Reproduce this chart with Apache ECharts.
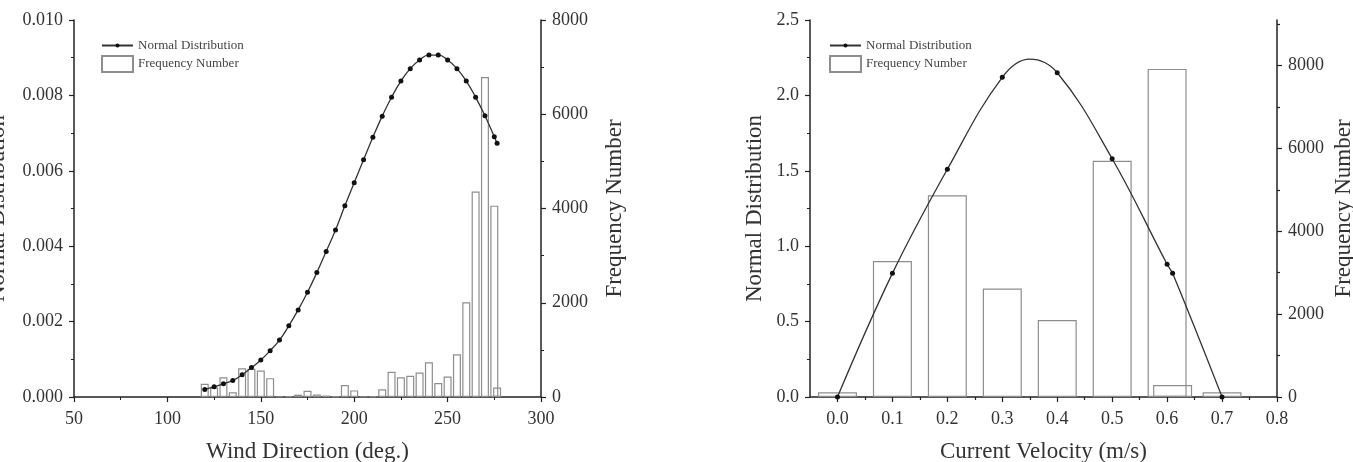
<!DOCTYPE html>
<html>
<head>
<meta charset="utf-8">
<title>Wind direction / current velocity</title>
<script src="https://cdn.jsdelivr.net/npm/echarts@6/dist/echarts.min.js"></script>
<style>
	html, body { margin: 0; padding: 0; background: #fff; }
	#chart { width: 1353px; height: 462px; }
</style>
</head>
<body>
<div id="chart"></div>
<script>
	// left panel: wind direction (deg.)
	var windDir = [120, 125, 130, 135, 140, 145, 150, 155, 160, 165, 170, 175, 180, 185, 190, 195, 200,
		205, 210, 215, 220, 225, 230, 235, 240, 245, 250, 255, 260, 265, 270, 275, 276.5];
	var windNorm = [0.00020, 0.00027, 0.00035, 0.00044, 0.00059, 0.00078, 0.00098, 0.00123, 0.00151, 0.00189,
		0.00231, 0.00278, 0.00330, 0.00386, 0.00443, 0.00507, 0.00568, 0.00629, 0.00689, 0.00745, 0.00795,
		0.00838, 0.00871, 0.00894, 0.00907, 0.00907, 0.00894, 0.00871, 0.00838, 0.00795, 0.00746, 0.00690, 0.00673];
	var windFreq = [280, 200, 420, 100, 610, 600, 560, 400, 10, 20, 50, 130, 55, 30, 15, 255, 140,
		10, 15, 165, 535, 420, 450, 520, 735, 295, 435, 905, 2010, 4360, 6790, 4060, 200];

	// right panel: current velocity (m/s)
	var velLine = [0, 0.1, 0.2, 0.3, 0.35, 0.4, 0.5, 0.6, 0.61, 0.7];
	var velNorm = [0, 0.82, 1.51, 2.12, 2.24, 2.15, 1.58, 0.88, 0.82, 0];
	var velPeak = 0.35; // point of the fitted curve that has no marker
	var velBins = [0, 0.1, 0.2, 0.3, 0.4, 0.5, 0.6, 0.61, 0.7];
	var velFreq = [113, 3280, 4870, 2620, 1860, 5700, 7920, 290, 113];

	// tick labels
	var velTicks = [0, 0.1, 0.2, 0.3, 0.4, 0.5, 0.6, 0.7, 0.8];
	var velMinorTicks = [0.05, 0.15, 0.25, 0.35, 0.45, 0.55, 0.65, 0.75];
	var freqTicks = [0, 2000, 4000, 6000, 8000];
	var freqMinorTicks = [1000, 3000, 5000, 7000, 9000];

	var font = "'Liberation Serif', 'Times New Roman', serif";
	var ink = '#222';
	var textGray = '#333';

	function pairs(xs, ys) {
		var out = [];
		for (var i = 0; i < xs.length; i++) {
			out.push([xs[i], ys[i]]);
		}
		return out;
	}

	function plain(v) { return String(v); } // no thousands separator

	function baseAxis(extra) {
		var axis = {
			type: 'value',
			splitLine: { show: false },
			axisLine: { show: true, onZero: false, lineStyle: { color: ink, width: 1.5 } },
			axisTick: { show: true, length: 5, lineStyle: { color: ink, width: 1.2 } },
			minorTick: { show: true, splitNumber: 2, length: 3, lineStyle: { color: ink, width: 1 } },
			axisLabel: { fontFamily: font, fontSize: 18, color: textGray, margin: 11 },
			nameLocation: 'middle',
			nameTextStyle: { fontFamily: font, fontSize: 23, color: textGray }
		};
		for (var k in extra) {
			if (typeof extra[k] === 'object' && axis[k] && !Array.isArray(extra[k])) {
				axis[k] = Object.assign({}, axis[k], extra[k]);
			} else {
				axis[k] = extra[k];
			}
		}
		return axis;
	}

	function legendItem(name, left, top, h, icon) {
		var l = {
			data: [name],
			left: left,
			top: top,
			padding: 0,
			itemWidth: 31,
			itemHeight: h,
			textStyle: { fontFamily: font, fontSize: 13, color: '#444' }
		};
		if (icon) l.icon = icon;
		return l;
	}

	function setoption() {
		var velLineData = [];
		for (var i = 0; i < velLine.length; i++) {
			var item = { value: [velLine[i], velNorm[i]] };
			if (velLine[i] === velPeak) item.symbol = 'none';
			velLineData.push(item);
		}
		var barStyle = { color: 'rgba(255,255,255,0)', borderColor: '#8e8e8e', borderWidth: 1.2 };
		var lineStyle = { color: '#333', width: 1.3 };

		return {
			animation: false,
			backgroundColor: '#fff',
			// outerBoundsMode none: keep the plot boxes where they are even if a name runs off the page
			grid: [
				{ left: 74, top: 20, width: 467, height: 377, outerBoundsMode: 'none' },
				{ left: 810, top: 20, width: 467, height: 377, outerBoundsMode: 'none' }
			],
			legend: [
				legendItem('Normal Distribution', 101, 39, 5),
				legendItem('Frequency Number', 101, 55, 16, 'rect'),
				legendItem('Normal Distribution', 829, 39, 5),
				legendItem('Frequency Number', 829, 55, 16, 'rect')
			],
			xAxis: [
				baseAxis({
					gridIndex: 0, min: 50, max: 300, interval: 50,
					axisLabel: { margin: 13 },
					name: 'Wind Direction (deg.)', nameGap: 43
				}),
				baseAxis({
					gridIndex: 1, min: -0.05, max: 0.8, position: 'bottom',
					minorTick: { show: false },
					axisTick: { customValues: velTicks },
					axisLabel: { margin: 13, customValues: velTicks, formatter: function(v) { return v.toFixed(1); } },
					name: 'Current Velocity (m/s)', nameGap: 43
				}),
				baseAxis({
					gridIndex: 1, min: -0.05, max: 0.8, position: 'bottom',
					minorTick: { show: false },
					axisLine: { show: false },
					axisLabel: { show: false },
					axisTick: { customValues: velMinorTicks, length: 3 }
				})
			],
			yAxis: [
				baseAxis({
					gridIndex: 0, min: 0, max: 0.01, interval: 0.002, position: 'left',
					axisLabel: { formatter: function(v) { return v.toFixed(3); } },
					name: 'Normal Distribution', nameGap: 65
				}),
				baseAxis({
					gridIndex: 0, min: 0, max: 8000, interval: 2000, position: 'right',
					axisLabel: { formatter: plain },
					name: 'Frequency Number', nameGap: 62
				}),
				baseAxis({
					gridIndex: 1, min: 0, max: 2.5, interval: 0.5, position: 'left',
					axisLabel: { formatter: function(v) { return v.toFixed(1); } },
					name: 'Normal Distribution', nameGap: 44
				}),
				baseAxis({
					gridIndex: 1, min: 0, max: 9100, position: 'right',
					minorTick: { show: false },
					axisTick: { customValues: freqTicks },
					axisLabel: { customValues: freqTicks, formatter: plain },
					name: 'Frequency Number', nameGap: 55
				}),
				baseAxis({
					gridIndex: 1, min: 0, max: 9100, position: 'right',
					minorTick: { show: false },
					axisLine: { show: false },
					axisLabel: { show: false },
					axisTick: { customValues: freqMinorTicks, length: 3 }
				})
			],
			series: [
				{
					name: 'Frequency Number', type: 'bar',
					xAxisIndex: 0, yAxisIndex: 1,
					barWidth: 8, itemStyle: barStyle, z: 2,
					data: pairs(windDir, windFreq)
				},
				{
					name: 'Normal Distribution', type: 'line',
					xAxisIndex: 0, yAxisIndex: 0,
					smooth: true, symbol: 'circle', symbolSize: 5,
					itemStyle: { color: '#111' }, lineStyle: lineStyle, z: 3,
					data: pairs(windDir, windNorm)
				},
				{
					name: 'Frequency Number', type: 'bar',
					xAxisIndex: 1, yAxisIndex: 3,
					barWidth: 39, itemStyle: barStyle, z: 2,
					data: pairs(velBins, velFreq)
				},
				{
					name: 'Normal Distribution', type: 'line',
					xAxisIndex: 1, yAxisIndex: 2,
					smooth: 0.4, symbol: 'circle', symbolSize: 5,
					itemStyle: { color: '#111' }, lineStyle: lineStyle, z: 3,
					data: velLineData
				}
			]
		};
	}

	var myChart = echarts.init(document.getElementById('chart'));
	myChart.setOption(setoption());
</script>
</body>
</html>
